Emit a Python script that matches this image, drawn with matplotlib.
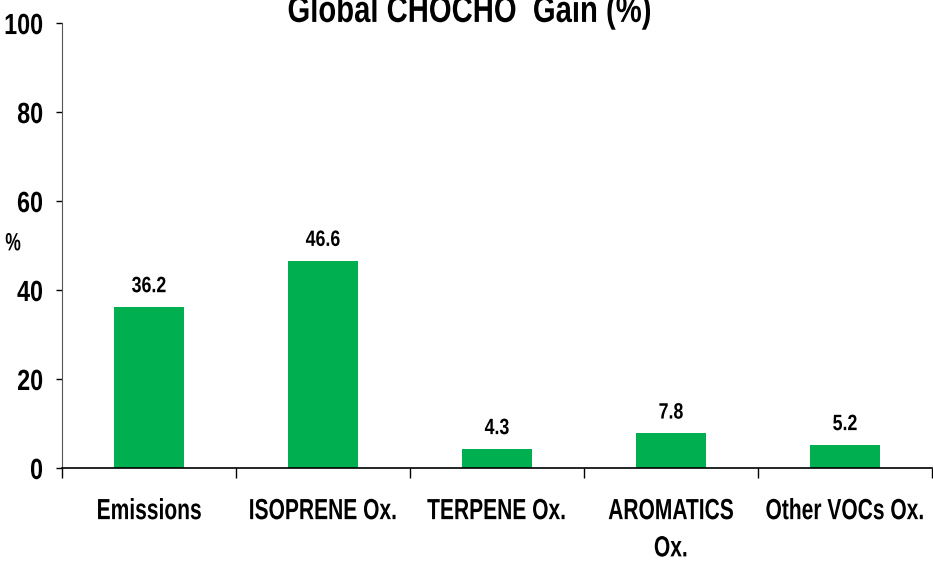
import matplotlib
matplotlib.use('Agg')
import numpy as np
import matplotlib.pyplot as plt
from matplotlib import patheffects
from matplotlib.path import Path
from matplotlib.transforms import Affine2D
from matplotlib.ticker import FixedLocator

plt.rcParams['font.family'] = ['Liberation Sans', 'DejaVu Sans']
plt.rcParams['font.weight'] = 'bold'

# Sources of global glyoxal production
categories = ['Emissions', 'ISOPRENE Ox.', 'TERPENE Ox.', 'AROMATICS\nOx.', 'Other VOCs Ox.']
gain_pct = [36.2, 46.6, 4.3, 7.8, 5.2]
y_ticks = [0, 20, 40, 60, 80, 100]

bar_color = '#00B050'


class Narrow(patheffects.AbstractPathEffect):
    """Squeeze text glyphs horizontally (no narrow bold font installed)."""

    def __init__(self, sx=0.75, anchor='center'):
        super().__init__()
        self.sx = sx
        self.anchor = anchor

    def draw_path(self, renderer, gc, tpath, affine, rgbFace=None):
        verts = tpath.vertices
        if tpath.codes is not None:
            verts = verts[tpath.codes != Path.CLOSEPOLY]
        if len(verts) == 0:
            return
        xs = verts[:, 0]
        if self.anchor == 'right':
            x0 = xs.max()
        elif self.anchor == 'left':
            x0 = xs.min()
        else:
            x0 = (xs.min() + xs.max()) / 2
        squeeze = Affine2D().translate(-x0, 0).scale(self.sx, 1).translate(x0, 0)
        renderer.draw_path(gc, tpath, squeeze + affine, rgbFace)


fig = plt.figure(figsize=(9.33, 5.62), dpi=100)
ax = fig.add_axes([0.0665, 0.1673, 0.9325, 0.7917])

x = np.arange(len(categories))
ax.bar(x, gain_pct, width=0.4, color=bar_color)

for xi, v in zip(x, gain_pct):
    ax.annotate(f'{v:.1f}', (xi, v), xytext=(0, 7), textcoords='offset points',
                ha='center', va='bottom', fontsize=16, fontweight='bold',
                path_effects=[Narrow(0.8)])

ax.set_xlim(-0.5, len(categories) - 0.5)
ax.set_ylim(0, 100)
ax.set_yticks(y_ticks)
ax.tick_params(axis='y', labelsize=21, length=4.5, width=1, direction='out', pad=9)

# category names centred, tick marks between the categories
ax.set_xticks(x)
ax.set_xticklabels(categories, linespacing=1.42)
ax.xaxis.set_minor_locator(FixedLocator(np.arange(len(categories) + 1) - 0.5))
ax.tick_params(axis='x', which='major', length=0, labelsize=21, pad=21)
ax.tick_params(axis='x', which='minor', length=7, width=1, direction='out')

for lbl in ax.get_yticklabels():
    lbl.set_path_effects([Narrow(0.8, 'right')])
for lbl in ax.get_xticklabels():
    lbl.set_path_effects([Narrow(0.72)])

for side in ['top', 'right']:
    ax.spines[side].set_visible(False)
ax.spines['left'].set_color('#555555')
ax.spines['bottom'].set_color('black')
ax.spines['bottom'].set_linewidth(1.2)

fig.text(0.014, 0.567, '%', fontsize=18, fontweight='bold', ha='center', va='center',
         path_effects=[Narrow(0.7)])
fig.text(0.503, 0.961, 'Global CHOCHO  Gain (%)', fontsize=27, fontweight='bold',
         ha='center', va='baseline', path_effects=[Narrow(0.78)])

fig.savefig('out.png', dpi=100)
